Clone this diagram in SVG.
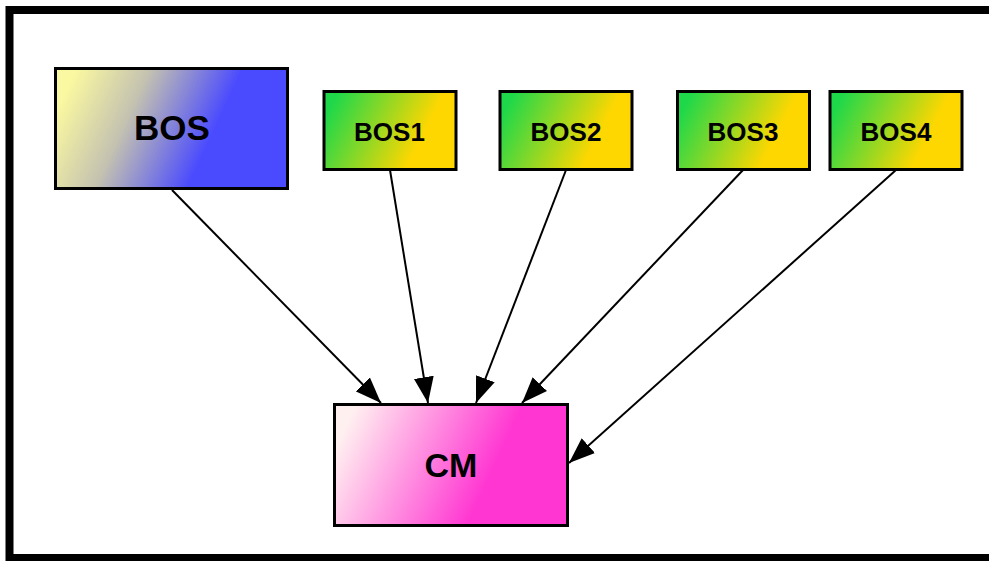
<svg xmlns="http://www.w3.org/2000/svg" width="989" height="561" viewBox="0 0 989 561">
<style>
.box{stroke:#000;stroke-width:3}
.lbl{font-family:"Liberation Sans",Arial,sans-serif;font-weight:bold;fill:#000;text-anchor:middle}
.edge{stroke:#000;stroke-width:2;fill:none}
</style>
<defs>
<linearGradient id="gBos" x1="0" y1="0.38" x2="1" y2="0.62">
<stop offset="0" stop-color="#faf8a0"/>
<stop offset="0.3" stop-color="#c4c2b0"/>
<stop offset="0.68" stop-color="#4a4aff"/>
<stop offset="1" stop-color="#4a4aff"/>
</linearGradient>
<linearGradient id="gGreen" x1="0" y1="0.35" x2="1" y2="0.65">
<stop offset="0" stop-color="#1ed84a"/>
<stop offset="0.75" stop-color="#ffd700"/>
<stop offset="1" stop-color="#ffd700"/>
</linearGradient>
<linearGradient id="gPink" x1="0" y1="0.38" x2="1" y2="0.62">
<stop offset="0" stop-color="#fff0f0"/>
<stop offset="0.68" stop-color="#ff36d2"/>
<stop offset="1" stop-color="#ff36d2"/>
</linearGradient>
<marker id="arr" markerUnits="userSpaceOnUse" markerWidth="27" markerHeight="21" refX="26" refY="10" orient="auto" viewBox="0 0 27 20">
<path d="M0,0 L26,10 L0,20 Z" fill="#000"/>
</marker>
</defs>
<rect x="0" y="0" width="989" height="561" fill="#fff"/>
<rect x="9.5" y="10" width="1000" height="548" fill="none" stroke="#000" stroke-width="8"/>
<g id="edges">
<line class="edge" x1="172" y1="190" x2="381" y2="403" marker-end="url(#arr)"/>
<line class="edge" x1="390" y1="170" x2="428" y2="403" marker-end="url(#arr)"/>
<line class="edge" x1="566" y1="170" x2="476" y2="403" marker-end="url(#arr)"/>
<line class="edge" x1="743" y1="170" x2="522" y2="403" marker-end="url(#arr)"/>
<line class="edge" x1="896" y1="170" x2="569" y2="463" marker-end="url(#arr)"/>
</g>
<g id="BOS">
<rect class="box" x="55.5" y="68.5" width="232" height="120" fill="url(#gBos)"/>
<text class="lbl" x="172" y="140" font-size="35">BOS</text>
</g>
<g id="BOS1">
<rect class="box" x="324" y="91.5" width="132" height="78" fill="url(#gGreen)"/>
<text class="lbl" x="389.5" y="140.5" font-size="26">BOS1</text>
</g>
<g id="BOS2">
<rect class="box" x="500" y="91.5" width="132" height="78" fill="url(#gGreen)"/>
<text class="lbl" x="566" y="140.5" font-size="26">BOS2</text>
</g>
<g id="BOS3">
<rect class="box" x="677.5" y="91.5" width="132" height="78" fill="url(#gGreen)"/>
<text class="lbl" x="743" y="140.5" font-size="26">BOS3</text>
</g>
<g id="BOS4">
<rect class="box" x="830" y="91.5" width="132" height="78" fill="url(#gGreen)"/>
<text class="lbl" x="896" y="140.5" font-size="26">BOS4</text>
</g>
<g id="CM">
<rect class="box" x="334.5" y="404.5" width="233" height="121" fill="url(#gPink)"/>
<text class="lbl" x="451" y="476.5" font-size="34">CM</text>
</g>
</svg>
